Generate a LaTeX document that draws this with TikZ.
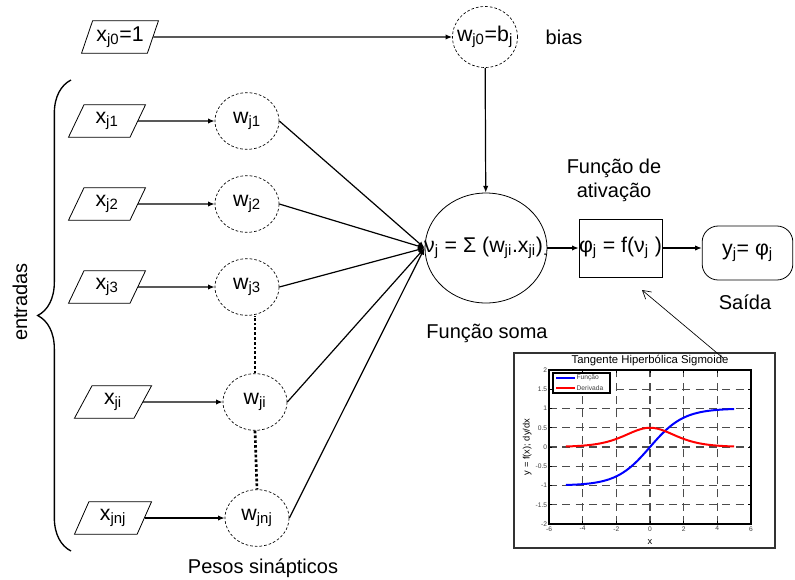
\documentclass[tikz,border=0pt]{standalone}
\usepackage{fontspec}
\setmainfont{Liberation Sans}
\usepackage{tikz}
\usetikzlibrary{arrows.meta}
\usetikzlibrary{shapes.geometric}
\usetikzlibrary{decorations.pathreplacing}

\newcommand{\sbs}[1]{\textsubscript{#1}}
\newcommand{\zw}[1]{\makebox[0pt]{#1}}

\tikzset{
  inp/.style={trapezium, trapezium left angle=67, trapezium right angle=113,
    trapezium stretches=true, draw, line width=0.6pt, minimum width=58pt,
    minimum height=24.5pt, inner sep=1pt, font=\fontsize{16}{18}\selectfont},
  peso/.style={ellipse, draw, dash pattern=on 2pt off 1.5pt, line width=0.5pt,
    minimum width=48pt, minimum height=42.5pt, inner sep=0pt,
    font=\fontsize{16}{18}\selectfont},
  lbl/.style={font=\fontsize{15}{18}\selectfont},
  arr/.style={-{Latex[length=5pt,width=4pt]}, line width=0.9pt},
  grd/.style={dash pattern=on 6pt off 4pt, line width=1.1pt, black!70},
  tck/.style={font=\fontsize{5}{6}\selectfont, text=black!75, inner sep=1pt}
}

\begin{document}
\begin{tikzpicture}[x=0.75pt, y=-0.75pt]
\useasboundingbox (0,0) rectangle (795,579);
%%% Draws inputs and weights
% draws inputs
\node[inp] (x0) at (120,37) {x\sbs{j0}=1};
\node[inp] (x1) at (107,121) {x\sbs{j1}};
\node[inp] (x2) at (107,204) {x\sbs{j2}};
\node[inp] (x3) at (107,287) {x\sbs{j3}};
\node[inp] (xi) at (113,402) {x\sbs{ji}};
\node[inp] (xn) at (113,518) {x\sbs{jnj}};
% draws weights
\node[peso, minimum width=48.75pt, minimum height=45.75pt] (w0) at (485,37) {\zw{w\sbs{j0}=b\sbs{j}}};
\node[peso] (w1) at (247,121) {w\sbs{j1}};
\node[peso] (w2) at (247,204) {w\sbs{j2}};
\node[peso] (w3) at (247,287) {w\sbs{j3}};
\node[peso] (wi) at (255,402) {w\sbs{ji}};
\node[peso] (wn) at (257,518) {w\sbs{jnj}};
% draws input arrows
\foreach \n in {0,1,2,3,i,n}
  \draw[arr] (x\n.east) -- (w\n.west);
% dotted links between weights
\draw[line width=2pt, dash pattern=on 2pt off 1.6pt] (wi.north) -- (wi.north |- w3.south);
\draw[line width=2pt, dash pattern=on 2pt off 1.6pt] (wi.south) -- (wn.north);
% brace and its label
\draw[line width=1pt, decorate, decoration={brace, amplitude=25pt}] (71,551) -- (71,80);
\node[lbl, rotate=90] (ent) at (20,302) {entradas};
\node[lbl] (pesos) at (263,568) {Pesos sinápticos};
\node[lbl, anchor=west] (bias) at (541,37) {bias};

%%% Draws neuron
\node[ellipse, draw, line width=0.6pt, minimum width=91.5pt, minimum height=82.5pt, inner sep=0pt,
  font=\fontsize{16}{18}\selectfont] (sum) at (486,248)
  {\zw{ν\sbs{j} = Σ (w\sbs{ji}.x\sbs{ji})\sbs{.}}};
\node[draw, line width=0.6pt, minimum width=62pt, minimum height=43.5pt, inner sep=0pt,
  font=\fontsize{16}{18}\selectfont] (act) at (620.5,248) {φ\sbs{j} = f(ν\sbs{j} )};
\node[draw, line width=0.6pt, rounded corners=12pt, minimum width=68pt, minimum height=40.5pt,
  font=\fontsize{16}{18}\selectfont] (out) at (747.5,253) {y\sbs{j}= φ\sbs{j}};
% draws connections
\foreach \n in {1,2,3,i,n}
  \draw[arr] (w\n.east) -- (sum.west);
\draw[arr] (w0) -- (sum);
\draw[arr] (sum) -- (act);
\draw[arr] (act.east) -- (act.east -| out.west);
% labels
\node[lbl, align=center] (fat) at (614,180) {Função de\\ativação};
\node[lbl] (fsoma) at (487,333) {Função soma};
\node[lbl] (saida) at (745,302) {Saída};

%%% Draws plot
\draw[line width=0.8pt, black!80, fill=white] (514,353) rectangle (775,548);
\begin{scope}[shift={(487.5pt,-335.25pt)}, x=12.62pt, y=28.875pt]
% grid
\foreach \gx in {-4,-2,0,2,4}
  \draw[grd] (\gx,-2) -- (\gx,2);
\foreach \gy in {-1.5,-1,-0.5,0,0.5,1,1.5}
  \draw[grd] (-6,\gy) -- (6,\gy);
% ticks
\foreach \gx in {-6,-4,-2,0,2,4,6} {
  \draw[line width=0.5pt] (\gx,-2) -- ++(0,0.07);
  \draw[line width=0.5pt] (\gx,2) -- ++(0,-0.07);
  \node[tck, anchor=north] at (\gx,-2.02) {\gx};
}
\foreach \gy in {-2,-1.5,-1,-0.5,0,0.5,1,1.5,2} {
  \draw[line width=0.5pt] (-6,\gy) -- ++(0.15,0);
  \draw[line width=0.5pt] (6,\gy) -- ++(-0.15,0);
  \node[tck, anchor=east] at (-6.02,\gy) {\gy};
}
% curves
\draw[blue, line width=1.5pt, domain=-5:5, samples=60] plot (\x,{tanh(\x/2)});
\draw[red, line width=1.5pt, domain=-5:5, samples=60] plot (\x,{0.5*(1-tanh(\x/2)*tanh(\x/2))});
\draw[line width=1.3pt] (-6,-2) rectangle (6,2);
% legend
\draw[line width=1pt, fill=white] (-5.76,1.92) rectangle (-2.38,1.40);
\draw[blue, line width=1.3pt] (-5.58,1.79) -- (-4.46,1.79);
\draw[red, line width=1.3pt] (-5.58,1.53) -- (-4.46,1.53);
\node[tck, anchor=west, inner sep=0.5pt] (lf) at (-4.42,1.79) {Função};
\node[tck, anchor=west, inner sep=0.5pt] (ld) at (-4.42,1.53) {Derivada};
% titles
\node[font=\fontsize{8.5}{10}\selectfont] (ttl) at (0,2.25) {Tangente Hiperbólica Sigmoide};
\node[font=\fontsize{7}{8}\selectfont, rotate=90] (yl) at (-7.3,0) {y = f(x); dy/dx};
\node[font=\fontsize{7}{8}\selectfont] (xl) at (0,-2.48) {x};
\end{scope}
% pointer to activation
\coordinate (pa) at (723,358);
\coordinate (pb) at (642,290);
\draw[line width=0.5pt, -{Straight Barb[length=6pt,width=7pt]}] (pa) -- (pb);
\end{tikzpicture}
\end{document}
